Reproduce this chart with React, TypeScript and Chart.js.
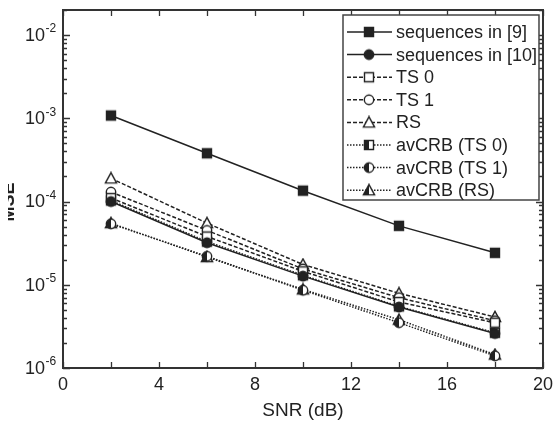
import React, { useEffect, useRef } from 'react';
import { Chart, registerables } from 'chart.js';

Chart.register(...registerables);

// ---- data ----
const snr = [2, 6, 10, 14, 18];
const seq9 = [1.08e-3, 3.8e-4, 1.35e-4, 5.1e-5, 2.42e-5];
const seq10 = [1.0e-4, 3.2e-5, 1.27e-5, 5.4e-6, 2.6e-6];
const ts0 = [1.1e-4, 3.8e-5, 1.45e-5, 6.2e-6, 3.5e-6];
const ts1 = [1.3e-4, 4.5e-5, 1.55e-5, 7.0e-6, 3.7e-6];
const rs = [1.9e-4, 5.5e-5, 1.75e-5, 7.9e-6, 4.1e-6];
const crbTs0 = [1.03e-4, 3.3e-5, 1.3e-5, 5.5e-6, 2.65e-6];
const crbTs1 = [5.4e-5, 2.2e-5, 8.6e-6, 3.5e-6, 1.4e-6];
const crbRs = [5.5e-5, 2.15e-5, 8.8e-6, 3.8e-6, 1.45e-6];

const seriesLabels = [
  'sequences in [9]',
  'sequences in [10]',
  'TS 0',
  'TS 1',
  'RS',
  'avCRB (TS 0)',
  'avCRB (TS 1)',
  'avCRB (RS)',
];
const xTickValues = [0, 4, 8, 12, 16, 20];
const xMinorTickStep = 2;
const yTickExponents = [-6, -5, -4, -3, -2];
const xTitle = 'SNR (dB)';
const yTitle = 'MSE';

const FONT = '"Liberation Sans", Arial, Helvetica, sans-serif';
const INK = '#222222';

type Shape = 'square' | 'circle' | 'triangle';
type FillKind = 'full' | 'none' | 'half';

function makeMarker(shape: Shape, fill: FillKind): HTMLCanvasElement {
  const s = 14;
  const c = document.createElement('canvas');
  c.width = s;
  c.height = s;
  const ctx = c.getContext('2d')!;
  const path = () => {
    ctx.beginPath();
    if (shape === 'square') {
      ctx.rect(2.5, 2.5, 9, 9);
    } else if (shape === 'circle') {
      ctx.arc(7, 7, 4.7, 0, Math.PI * 2);
    } else {
      ctx.moveTo(7, 1.3);
      ctx.lineTo(12.6, 11.6);
      ctx.lineTo(1.4, 11.6);
      ctx.closePath();
    }
  };
  ctx.lineWidth = 1.4;
  ctx.strokeStyle = INK;
  path();
  ctx.fillStyle = fill === 'full' ? INK : '#ffffff';
  ctx.fill();
  if (fill === 'half') {
    ctx.save();
    ctx.beginPath();
    ctx.rect(0, 0, 7, s);
    ctx.clip();
    path();
    ctx.fillStyle = INK;
    ctx.fill();
    ctx.restore();
  }
  path();
  ctx.stroke();
  return c;
}

export default function App() {
  const ref = useRef<HTMLCanvasElement>(null);

  useEffect(() => {
    const canvas = ref.current!;
    const markers = [
      makeMarker('square', 'full'),
      makeMarker('circle', 'full'),
      makeMarker('square', 'none'),
      makeMarker('circle', 'none'),
      makeMarker('triangle', 'none'),
      makeMarker('square', 'half'),
      makeMarker('circle', 'half'),
      makeMarker('triangle', 'half'),
    ];
    const values = [seq9, seq10, ts0, ts1, rs, crbTs0, crbTs1, crbRs];
    const solid: number[] = [];
    const dashed = [4, 2];
    const dotted = [1.5, 1.5];
    const dashes = [solid, solid, dashed, dashed, dashed, dotted, dotted, dotted];

    const datasets = seriesLabels.map((label, i) => ({
      label,
      data: snr.map((x, j) => ({ x, y: values[i][j] })),
      borderColor: INK,
      backgroundColor: INK,
      borderWidth: 1.5,
      borderDash: dashes[i],
      pointStyle: markers[i] as any,
      pointRadius: 5,
      pointHoverRadius: 5,
      tension: 0,
      fill: false,
      clip: false as any,
    }));

    const decorPlugin = {
      id: 'decor',
      afterDatasetsDraw(chart: any) {
        const ctx: CanvasRenderingContext2D = chart.ctx;
        const { left, right, top, bottom } = chart.chartArea;
        const xs = chart.scales.x;
        const ys = chart.scales.y;
        ctx.save();
        // frame
        ctx.strokeStyle = '#333333';
        ctx.lineWidth = 2;
        ctx.strokeRect(left, top, right - left, bottom - top);

        // inward x ticks (bottom & top)
        ctx.lineWidth = 1.3;
        ctx.beginPath();
        for (let v = xs.min; v <= xs.max + 1e-9; v += xMinorTickStep) {
          const px = Math.round(xs.getPixelForValue(v)) + 0.5;
          const len = 6;
          ctx.moveTo(px, bottom);
          ctx.lineTo(px, bottom - len);
          ctx.moveTo(px, top);
          ctx.lineTo(px, top + len);
        }
        // inward y ticks (left & right), log minors
        for (let e = -7; e <= -1; e++) {
          for (let m = 1; m <= 9; m++) {
            const val = m * Math.pow(10, e);
            if (val < ys.min * 0.999 || val > ys.max * 1.001) continue;
            const py = Math.round(ys.getPixelForValue(val)) + 0.5;
            const len = m === 1 ? 7 : 4;
            ctx.moveTo(left, py);
            ctx.lineTo(left + len, py);
            ctx.moveTo(right, py);
            ctx.lineTo(right - len, py);
          }
        }
        ctx.stroke();

        // y tick labels 10^k
        ctx.fillStyle = INK;
        for (const e of yTickExponents) {
          const py = ys.getPixelForValue(Math.pow(10, e));
          ctx.font = `18px ${FONT}`;
          ctx.textAlign = 'right';
          ctx.textBaseline = 'middle';
          ctx.fillText('10', 45, py + 1);
          ctx.font = `12px ${FONT}`;
          ctx.textAlign = 'left';
          ctx.fillText(`-${-e}`, 45.5, py - 6);
        }

        // y title (cut off at the left edge, as in the reference)
        ctx.save();
        ctx.beginPath();
        ctx.rect(8, 0, 40, chart.height);
        ctx.clip();
        ctx.translate(14, (top + bottom) / 2 + 13);
        ctx.rotate(-Math.PI / 2);
        ctx.font = `bold 18px ${FONT}`;
        ctx.textAlign = 'center';
        ctx.textBaseline = 'alphabetic';
        ctx.fillText(yTitle, 0, 0);
        ctx.restore();
        ctx.restore();
      },
      afterDraw(chart: any) {
        const ctx: CanvasRenderingContext2D = chart.ctx;
        const { right, top } = chart.chartArea;
        const boxL = 343;
        const boxR = right - 4;
        const boxT = top + 5;
        const boxB = 200;
        ctx.save();
        ctx.fillStyle = '#ffffff';
        ctx.fillRect(boxL, boxT, boxR - boxL, boxB - boxT);
        ctx.strokeStyle = '#444444';
        ctx.lineWidth = 1.5;
        ctx.strokeRect(boxL, boxT, boxR - boxL, boxB - boxT);
        const ds = chart.data.datasets;
        const rowH = 22.6;
        ds.forEach((d: any, i: number) => {
          const cy = boxT + 17 + rowH * i;
          ctx.strokeStyle = INK;
          ctx.lineWidth = 1.5;
          ctx.setLineDash(d.borderDash || []);
          ctx.beginPath();
          ctx.moveTo(boxL + 4, cy);
          ctx.lineTo(boxL + 49, cy);
          ctx.stroke();
          ctx.setLineDash([]);
          const m = d.pointStyle as HTMLCanvasElement;
          ctx.drawImage(m, boxL + 26 - m.width / 2, cy - m.height / 2);
          ctx.fillStyle = INK;
          ctx.font = `18px ${FONT}`;
          ctx.textAlign = 'left';
          ctx.textBaseline = 'middle';
          ctx.fillText(d.label, boxL + 53, cy + 1);
        });
        ctx.restore();
      },
    };

    const chart = new Chart(canvas, {
      type: 'line',
      data: { datasets: datasets as any },
      options: {
        animation: false,
        responsive: false,
        maintainAspectRatio: false,
        events: [],
        layout: { padding: { top: 10, right: 11, left: 0, bottom: 0 } },
        plugins: {
          legend: { display: false },
          tooltip: { enabled: false },
          title: { display: false },
        },
        scales: {
          x: {
            type: 'linear',
            min: 0,
            max: 20,
            afterFit: (s: any) => {
              s.height = 60;
            },
            afterBuildTicks: (s: any) => {
              s.ticks = xTickValues.map((v) => ({ value: v }));
            },
            grid: { display: false, drawTicks: false },
            border: { display: false },
            ticks: {
              padding: 6,
              color: INK,
              font: { family: FONT, size: 18 },
              maxRotation: 0,
            },
            title: {
              display: true,
              text: xTitle,
              color: INK,
              font: { family: FONT, size: 19 },
              padding: { top: 6, bottom: 6 },
            },
          },
          y: {
            type: 'logarithmic',
            min: 1e-6,
            max: 2e-2,
            afterFit: (s: any) => {
              s.width = 63;
            },
            grid: { display: false, drawTicks: false },
            border: { display: false },
            ticks: { display: false },
          },
        },
      } as any,
      plugins: [decorPlugin],
    });
    return () => chart.destroy();
  }, []);

  return (
    <div
      style={{
        position: 'fixed',
        left: 0,
        top: 0,
        width: 559,
        height: 428,
        background: '#ffffff',
      }}
    >
      <canvas ref={ref} width={559} height={428} style={{ display: 'block' }} />
    </div>
  );
}
